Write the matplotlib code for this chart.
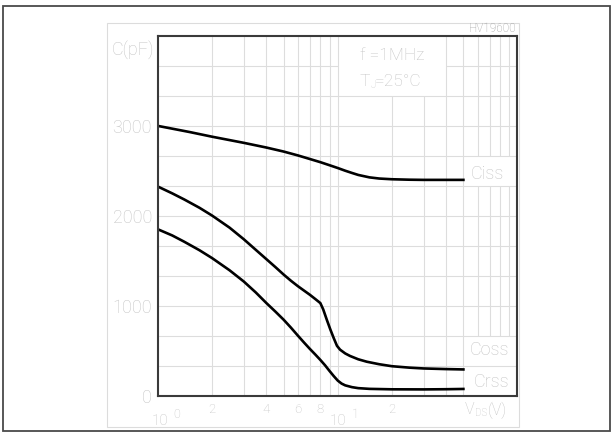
import matplotlib
matplotlib.use("Agg")
import matplotlib.pyplot as plt
from matplotlib.patches import Rectangle

plt.rcParams['font.family'] = ['Roboto', 'DejaVu Sans']
plt.rcParams['font.weight'] = 'light'

# capacitance vs drain-source voltage, f = 1 MHz, Tj = 25 C
vds_iss = [1, 1.5, 2, 3, 4, 5, 6, 7, 8, 9, 10, 11, 12, 13, 15, 17, 20, 25, 30, 40, 50]
ciss = [3000, 2932, 2880, 2812, 2760, 2715, 2672, 2632, 2597, 2563, 2532, 2502, 2477, 2455, 2428,
        2415, 2407, 2402, 2400, 2400, 2400]

vds_oss = [1, 1.2, 1.4, 1.7, 2, 2.5, 3, 3.5, 4, 4.5, 5, 5.5, 6, 6.5, 7, 7.5, 8, 8.3, 8.7, 9.1,
           9.5, 9.9, 10.3, 11, 11.7, 13, 14.5, 17, 20, 25, 30, 40, 50]
coss = [2325, 2250, 2182, 2090, 2003, 1869, 1740, 1622, 1520, 1430, 1347, 1277, 1218, 1168, 1122,
        1075, 1030, 960, 842, 735, 640, 555, 512, 470, 442, 405, 378, 350, 328, 312, 303, 296, 292]

vds_rss = [1, 1.2, 1.4, 1.7, 2, 2.5, 3, 3.5, 4, 4.5, 5, 5.5, 6, 6.5, 7, 7.5, 8, 8.5, 9, 9.5,
           10, 10.5, 11, 12, 13, 15, 20, 30, 40, 50]
crss = [1850, 1782, 1712, 1618, 1530, 1395, 1270, 1148, 1032, 935, 845, 755, 668, 590, 520, 458,
        398, 338, 275, 218, 168, 135, 115, 95, 84, 76, 71, 70, 72, 75]

y_ticks = [0, 1000, 2000, 3000]
x_ticks = [2, 4, 6, 8, 20]
x_tick_labels = ['2', '4', '6', '8', '2']

W, H = 612, 432
TXT = '#c4c4c4'


def fx(px):
    return px / W


def fy(py):
    return 1 - py / H


fig = plt.figure(figsize=(W / 100, H / 100), dpi=100)
ax = fig.add_axes([fx(158), fy(395.7), fx(517.5) - fx(158), fy(36) - fy(395.7)])
ax.set_xscale('log')
ax.set_xlim(1, 100)
ax.set_ylim(0, 4000)

# grid drawn by hand so the label areas stay clear
gkw = dict(color='#dddddd', lw=0.8, zorder=1)
for k in range(1, 12):
    c = k * 1000 / 3
    if k == 11:
        ax.hlines(c, 1, 10, **gkw)
        ax.hlines(c, 40, 100, **gkw)
    else:
        ax.hlines(c, 1, 100, **gkw)

for d in (1, 10):
    for m in range(2, 10):
        v = m * d
        if v in (20, 30):
            ax.vlines(v, 0, 10000 / 3, **gkw)
        elif v >= 60:
            ax.vlines(v, 2000 / 3, 7000 / 3, **gkw)
            ax.vlines(v, 8000 / 3, 4000, **gkw)
        else:
            ax.vlines(v, 0, 4000, **gkw)
ax.vlines(10, 0, 4000, **gkw)

for xs, ys in ((vds_iss, ciss), (vds_oss, coss), (vds_rss, crss)):
    ax.plot(xs, ys, color='black', lw=1.9, zorder=3, solid_joinstyle='round')

ax.set_yticks(y_ticks, [str(t) for t in y_ticks])
ax.set_xticks(x_ticks, x_tick_labels)
ax.minorticks_off()
ax.tick_params(axis='y', length=0, pad=4.3, labelsize=13, labelcolor=TXT)
ax.tick_params(axis='x', length=0, pad=5, labelsize=9.5, labelcolor=TXT)
for s in ax.spines.values():
    s.set_color('#3a3a3a')
    s.set_linewidth(1.5)
    s.set_zorder(4)

# curve names
ax.text(68, 2460, 'Ciss', ha='center', va='center', fontsize=13, color=TXT)
ax.text(70, 510, 'Coss', ha='center', va='center', fontsize=13, color=TXT)
ax.text(72, 150, 'Crss', ha='center', va='center', fontsize=13, color=TXT)

# conditions
fig.text(fx(360), fy(55), 'f =1MHz', ha='left', va='center', fontsize=12.5, color=TXT)
fig.text(fx(360), fy(82), 'T', ha='left', va='center', fontsize=12.5, color=TXT)
fig.text(fx(370.5), fy(85), 'J', ha='left', va='center', fontsize=7, color=TXT)
fig.text(fx(375), fy(82), '=25°C', ha='left', va='center', fontsize=12.5, color=TXT)

# axis titles and decade labels
fig.text(fx(154), fy(50), 'C(pF)', ha='right', va='center', fontsize=13, color=TXT)
fig.text(fx(516.5), fy(28), 'HV19600', ha='right', va='center', fontsize=8.5, color='#9c9c9c')
for xc, sup in ((160, '0'), (338, '1')):
    fig.text(fx(xc), fy(421), '10', ha='center', va='center', fontsize=11, color=TXT)
    fig.text(fx(xc + 13.5), fy(414), sup, ha='left', va='center', fontsize=9, color=TXT)
fig.text(fx(465), fy(410), 'V', ha='left', va='center', fontsize=11.5, color=TXT)
fig.text(fx(475.5), fy(412.5), 'DS', ha='left', va='center', fontsize=7, color=TXT)
fig.text(fx(487.5), fy(410), '(V)', ha='left', va='center', fontsize=11.5, color=TXT)

# frames
fig.add_artist(Rectangle((fx(106.7), fy(427)), fx(518.5) - fx(106.7), fy(22.7) - fy(427),
                         transform=fig.transFigure, fill=False, ec='#dcdcdc', lw=0.8))
fig.add_artist(Rectangle((fx(3), fy(430.5)), fx(609.5) - fx(3), fy(6) - fy(430.5),
                         transform=fig.transFigure, fill=False, ec='#4a4a4a', lw=1.3))

fig.savefig('out.png', dpi=100)
